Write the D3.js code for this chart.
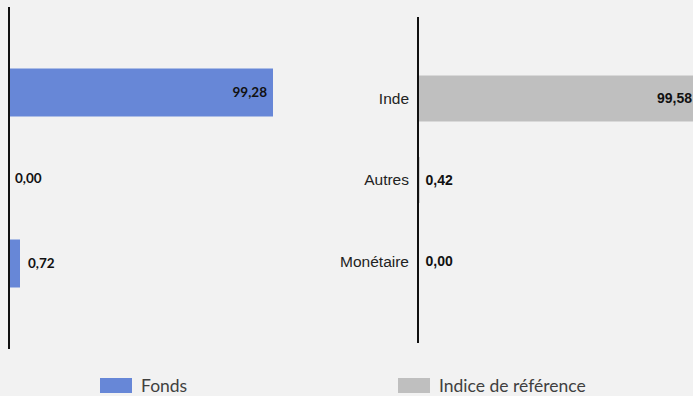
<!DOCTYPE html>
<html>
<head>
<meta charset="utf-8">
<script src="https://cdn.jsdelivr.net/npm/d3@7/dist/d3.min.js"></script>
<style>
  html, body { margin: 0; padding: 0; background: #f2f2f2; }
  svg { display: block; }
</style>
</head>
<body>
<div id="chart"></div>
<script>
// Asset allocation: fund vs. benchmark
const categories = ["Inde", "Autres", "Monétaire"];
const fundValues = [99.28, 0.00, 0.72];
const benchmarkValues = [99.58, 0.42, 0.00];
const seriesNames = ["Fonds", "Indice de référence"];
const seriesColors = ["#6787d7", "#bfbfbf"];

const W = 693, H = 396;
const fmt = v => v.toFixed(2).replace(".", ",");

const svg = d3.select("#chart").append("svg")
  .attr("width", W).attr("height", H);

svg.append("rect").attr("width", W).attr("height", H).attr("fill", "#f2f2f2");

// ---- Fund panel (left) ----
const yL = d3.scalePoint().domain(categories).range([7, 349]).padding(1);
const xL = d3.scaleLinear().domain([0, 99.28]).range([10, 273]);
const barHL = 48;
const minBar = 10;

const left = svg.append("g");
left.selectAll("rect.bar").data(categories).join("rect")
  .attr("class", "bar")
  .attr("x", xL(0))
  .attr("y", d => yL(d) - barHL / 2)
  .attr("width", (d, i) => fundValues[i] > 0 ? Math.max(xL(fundValues[i]) - xL(0), minBar) : 0)
  .attr("height", barHL)
  .attr("fill", seriesColors[0]);

left.selectAll("text.val").data(categories).join("text")
  .attr("class", "val")
  .each(function (d, i) {
    const v = fundValues[i];
    const w = v > 0 ? Math.max(xL(v) - xL(0), minBar) : 0;
    const inside = w > 60;
    d3.select(this)
      .attr("x", inside ? xL(0) + w - 6 : xL(0) + w + (w > 0 ? 8 : 5))
      .attr("text-anchor", inside ? "end" : "start");
  })
  .attr("y", d => yL(d))
  .attr("dy", "0.35em")
  .attr("font-family", "Lato, 'Open Sans', sans-serif")
  .attr("font-weight", 700)
  .attr("font-size", "13.5px")
  .attr("fill", "#111")
  .text((d, i) => fmt(fundValues[i]));

left.append("g")
  .attr("transform", `translate(${xL(0) - 1},0)`)
  .call(d3.axisLeft(yL).tickSize(0).tickFormat(""))
  .call(g => g.select(".domain").attr("stroke", "#111").attr("stroke-width", 2)
    .attr("d", `M0,7V349`));

// ---- Benchmark panel (right) ----
const yR = d3.scalePoint().domain(categories).range([17, 343]).padding(1);
const xR = d3.scaleLinear().domain([0, 99.58]).range([418.5, 698]);
const barHR = 46;

const right = svg.append("g");
right.selectAll("rect.bar").data(categories).join("rect")
  .attr("class", "bar")
  .attr("x", xR(0))
  .attr("y", d => yR(d) - barHR / 2)
  .attr("width", (d, i) => xR(benchmarkValues[i]) - xR(0))
  .attr("height", barHR)
  .attr("fill", seriesColors[1]);

right.selectAll("text.val").data(categories).join("text")
  .attr("class", "val")
  .each(function (d, i) {
    const w = xR(benchmarkValues[i]) - xR(0);
    const inside = w > 60;
    d3.select(this)
      .attr("x", inside ? xR(0) + w - 6 : xR(0) + 7)
      .attr("text-anchor", inside ? "end" : "start");
  })
  .attr("y", d => yR(d))
  .attr("dy", "0.35em")
  .attr("font-family", "'Liberation Sans', Arial, sans-serif")
  .attr("font-weight", 700)
  .attr("font-size", "14px")
  .attr("fill", "#111")
  .text((d, i) => fmt(benchmarkValues[i]));

// axis drawn over the bars
right.append("g")
  .attr("transform", `translate(${xR(0) - 0.5},0)`)
  .call(d3.axisLeft(yR).tickSize(0).tickPadding(9))
  .call(g => g.select(".domain").attr("stroke", "#111").attr("stroke-width", 2)
    .attr("d", `M0,17V343`))
  .call(g => g.selectAll(".tick text")
    .attr("font-family", "'Liberation Sans', Arial, sans-serif")
    .attr("font-size", "15.5px")
    .attr("fill", "#222"));

// ---- Legend ----
const legendX = [100, 398];
const legend = svg.append("g");
seriesNames.forEach((name, i) => {
  const g = legend.append("g").attr("transform", `translate(${legendX[i]},378)`);
  g.append("rect").attr("width", 32).attr("height", 15).attr("fill", seriesColors[i]);
  g.append("text")
    .attr("x", 41).attr("y", 8).attr("dy", "0.35em")
    .attr("font-family", "Lato, 'Open Sans', sans-serif")
    .attr("font-size", "17.5px")
    .attr("fill", "#404040")
    .text(name);
});
</script>
</body>
</html>
